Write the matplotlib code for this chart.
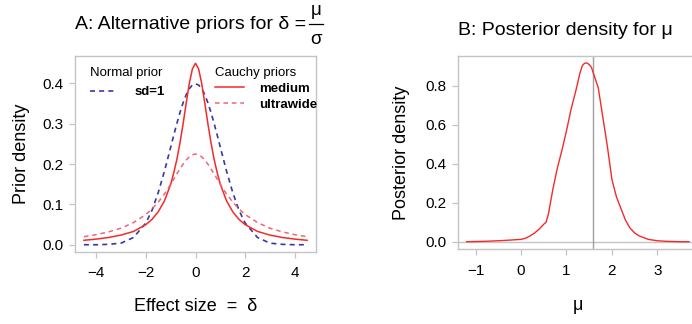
import matplotlib
matplotlib.use("Agg")
import matplotlib.pyplot as plt
from matplotlib.lines import Line2D

plt.rcParams['font.family']=['Liberation Sans','DejaVu Sans']

# panel A: prior densities
delta=[-4.5,-4,-3.5,-3,-2.5,-2,-1.75,-1.5,-1.25,-1,-0.875,-0.75,-0.625,-0.5,-0.375,-0.25,-0.125,0,
       0.125,0.25,0.375,0.5,0.625,0.75,0.875,1,1.25,1.5,1.75,2,2.5,3,3.5,4,4.5]
normal_sd1=[0.000,0.000,0.001,0.004,0.018,0.054,0.086,0.130,0.183,0.242,0.272,0.301,0.328,0.352,0.372,0.387,0.396,0.399,
            0.396,0.387,0.372,0.352,0.328,0.301,0.272,0.242,0.183,0.130,0.086,0.054,0.018,0.004,0.001,0.000,0.000]
cauchy_medium=[0.011,0.014,0.018,0.024,0.033,0.050,0.063,0.082,0.109,0.150,0.179,0.212,0.253,0.300,0.351,0.400,0.436,0.450,
               0.436,0.400,0.351,0.300,0.253,0.212,0.179,0.150,0.109,0.082,0.063,0.050,0.033,0.024,0.018,0.014,0.011]
cauchy_ultrawide=[0.020,0.025,0.032,0.041,0.055,0.075,0.089,0.106,0.126,0.150,0.163,0.176,0.188,0.200,0.210,0.218,0.223,0.225,
                  0.223,0.218,0.210,0.200,0.188,0.176,0.163,0.150,0.126,0.106,0.089,0.075,0.055,0.041,0.032,0.025,0.020]

# panel B: posterior density for mu
mu=[-1.2,-0.8,-0.4,-0.2,0.0,0.1,0.2,0.3,0.4,0.5,0.55,0.6,0.7,0.8,0.9,1.0,1.1,1.2,1.3,1.35,1.4,1.45,1.5,1.55,1.6,
    1.7,1.8,1.9,2.0,2.1,2.2,2.3,2.4,2.5,2.6,2.8,3.0,3.2,3.5,3.7]
posterior=[0.0,0.002,0.006,0.009,0.012,0.018,0.030,0.045,0.065,0.090,0.100,0.140,0.270,0.380,0.470,0.570,0.680,0.770,0.870,0.905,
           0.917,0.918,0.910,0.895,0.860,0.790,0.640,0.490,0.320,0.230,0.170,0.110,0.070,0.045,0.030,0.012,0.005,0.002,0.0,0.0]
mu_mark=1.59

A_XTICKS=[-4,-2,0,2,4]
A_YTICKS=[0.0,0.1,0.2,0.3,0.4]
B_XTICKS=[-1,0,1,2,3]
B_YTICKS=[0.0,0.2,0.4,0.6,0.8]

C_NORMAL='#3838a0'
C_MEDIUM='#f42a2a'
C_WIDE='#ee6677'
C_BOX='#c4c4c4'

W,H=692,324
fig=plt.figure(figsize=(W/100,H/100),dpi=100)

def style(ax):
    for s in ax.spines.values():
        s.set_color(C_BOX)
        s.set_linewidth(1.0)
    ax.tick_params(direction='out',length=4.3,width=0.9,color=C_BOX,labelsize=11,labelcolor='black')
    ax.tick_params(axis='x',pad=6)
    ax.tick_params(axis='y',pad=4)

# A
ax1=fig.add_axes([75/W,1-252/H,241/W,196/H])
ax1.plot(delta,normal_sd1,color=C_NORMAL,lw=1.2,ls=(0,(3,2.5)),label='sd=1')
ax1.plot(delta,cauchy_medium,color=C_MEDIUM,lw=1.1,label='medium')
ax1.plot(delta,cauchy_ultrawide,color=C_WIDE,lw=1.1,ls=(0,(3,2.5)),label='ultrawide')
ax1.set_xlim(-4.86,4.86)
ax1.set_ylim(-0.018,0.468)
ax1.set_xticks(A_XTICKS)
ax1.set_xticklabels(['\u22124','\u22122','0','2','4'])
ax1.set_yticks(A_YTICKS)
ax1.set_yticklabels(['0.0','0.1','0.2','0.3','0.4'])
style(ax1)
ax1.set_ylabel('Prior density',fontsize=13)
ax1.yaxis.set_label_coords(-0.185,0.5)
ax1.set_xlabel('Effect size  =  \u03b4',fontsize=13)
ax1.xaxis.set_label_coords(0.5,-0.235)

h=ax1.get_lines()
leg1=ax1.legend(handles=[h[0]],title='Normal prior',loc='upper left',bbox_to_anchor=(0.035,0.975),
                frameon=False,alignment='left',borderpad=0,handlelength=2.0,handletextpad=1.4,
                prop={'size':9.5,'weight':'bold'},title_fontproperties={'size':9.5})
ax1.add_artist(leg1)
ax1.legend(handles=[h[1],h[2]],title='Cauchy priors',loc='upper left',bbox_to_anchor=(0.555,0.975),
           frameon=False,alignment='left',borderpad=0,handlelength=2.2,handletextpad=1.1,labelspacing=0.25,
           prop={'size':9.5,'weight':'bold'},title_fontproperties={'size':9.5})

# title A with a full-size fraction mu / sigma
tA=fig.text(75/W,1-29/H,'A: Alternative priors for \u03b4 =',fontsize=14,ha='left',va='baseline')
fig.canvas.draw()
xe=tA.get_window_extent().x1
xc=xe+10
fig.text(xc/W,1-15/H,'\u03bc',fontsize=13.5,ha='center',va='baseline')
fig.text(xc/W,1-44/H,'\u03c3',fontsize=13.5,ha='center',va='baseline')
fig.add_artist(Line2D([(xc-7)/W,(xc+7)/W],[1-24/H,1-24/H],color='black',lw=0.9,transform=fig.transFigure))

# B
ax2=fig.add_axes([457.7/W,1-249.3/H,240.3/W,193.3/H])
ax2.axhline(0,color=C_BOX,lw=1.0,zorder=1)
ax2.axvline(mu_mark,color='#a0a0a0',lw=1.0,zorder=1)
ax2.plot(mu,posterior,color=C_MEDIUM,lw=1.0,zorder=2)
ax2.set_xlim(-1.396,3.896)
ax2.set_ylim(-0.039,0.954)
ax2.set_xticks(B_XTICKS)
ax2.set_xticklabels(['\u22121','0','1','2','3'])
ax2.set_yticks(B_YTICKS)
ax2.set_yticklabels(['0.0','0.2','0.4','0.6','0.8'])
style(ax2)
ax2.set_ylabel('Posterior density',fontsize=13)
ax2.yaxis.set_label_coords(-0.2,0.5)
ax2.set_xlabel('\u03bc',fontsize=13)
ax2.xaxis.set_label_coords(0.5,-0.245)

fig.text(457.7/W,1-35/H,'B: Posterior density for \u03bc',fontsize=14,ha='left',va='baseline')

fig.savefig('out.png',dpi=100)
